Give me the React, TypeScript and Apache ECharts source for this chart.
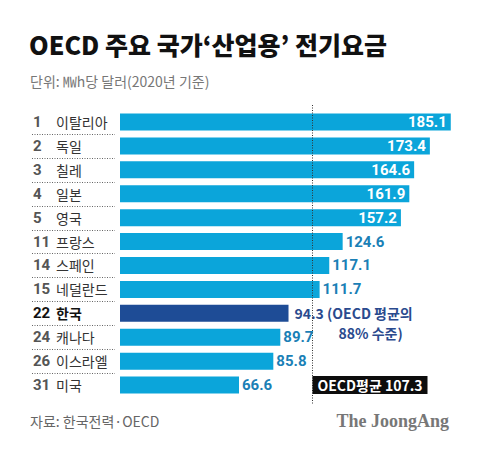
import React, { useEffect, useRef } from "react";
import * as echarts from "echarts";

const ranks = [1, 2, 3, 4, 5, 11, 14, 15, 22, 24, 26, 31];
const countries = ["이탈리아", "독일", "칠레", "일본", "영국", "프랑스", "스페인", "네덜란드", "한국", "캐나다", "이스라엘", "미국"];
const values = [185.1, 173.4, 164.6, 161.9, 157.2, 124.6, 117.1, 111.7, 94.3, 89.7, 85.8, 66.6];
const oecdAverage = 107.3;
const highlight = "한국";
const insideCount = 5;

const titleText = "OECD 주요 국가‘산업용’ 전기요금";
const subtitleText = "단위: ㎿h당 달러(2020년 기준)";
const sourceText = "자료: 한국전력·OECD";
const brandText = "The JoongAng";

const KR = '"Noto Sans CJK KR", "Noto Sans", sans-serif';
const NUM = 'Roboto, "Noto Sans", sans-serif';

export default function App() {
  const ref = useRef<HTMLDivElement>(null);
  useEffect(() => {
    if (!ref.current) return;
    const chart = echarts.init(ref.current, undefined, { renderer: "svg" });
    const hIdx = countries.indexOf(highlight);
    const barData = values.map((v, i) => {
      if (i === hIdx) {
        const pct = Math.round((v / oecdAverage) * 100);
        return {
          value: v,
          itemStyle: { color: "#1e4c96" },
          label: {
            show: true,
            position: "right",
            distance: 6,
            offset: [0, 10],
            formatter: `{a|${v} (OECD 평균의}\n{b|${pct}% 수준)}`,
            rich: {
              a: { fontSize: 14, fontWeight: "bold", color: "#2a4a8e", fontFamily: KR, lineHeight: 20 },
              b: { fontSize: 14, fontWeight: "bold", color: "#2a4a8e", fontFamily: KR, lineHeight: 20, padding: [0, 0, 0, 44] },
            },
          },
        };
      }
      const inside = i < insideCount;
      return {
        value: v,
        label: {
          show: true,
          position: inside ? "insideRight" : "right",
          distance: inside ? 4 : 3,
          color: inside ? "#ffffff" : "#1a80b6",
          fontSize: 15,
          fontWeight: "bold",
          fontFamily: NUM,
          formatter: String(v),
        },
      };
    });

    const sepData = countries.slice(1).map((_, i) => [0, i + 1]);

    chart.setOption({
      animation: false,
      backgroundColor: "#ffffff",
      grid: { left: 120, top: 110, width: 357.4, height: 287 },
      xAxis: { type: "value", min: 0, max: 200, show: false },
      yAxis: {
        type: "category",
        inverse: true,
        data: countries,
        axisLine: { show: false },
        axisTick: { show: false },
        axisLabel: {
          align: "left",
          margin: 87,
          formatter: (name: string, i: number) =>
            i === hIdx ? `{rk|${ranks[i]}}{nk|${name}}` : `{r|${ranks[i]}}{n|${name}}`,
          rich: {
            r: { width: 23, fontSize: 15, fontWeight: "bold", color: "#555", fontFamily: NUM },
            n: { fontSize: 14, color: "#333", fontFamily: KR },
            rk: { width: 23, fontSize: 15, fontWeight: "bold", color: "#111", fontFamily: NUM },
            nk: { fontSize: 14, fontWeight: "bold", color: "#111", fontFamily: KR },
          },
        },
      },
      series: [
        {
          type: "bar",
          data: barData,
          barWidth: 17,
          itemStyle: { color: "#0ba5da" },
          z: 2,
        },
        {
          type: "custom",
          data: sepData,
          z: 1,
          renderItem: (params: any, api: any) => {
            const c = api.coord([0, api.value(1)]);
            const bw = api.size([0, 1])[1];
            const y = Math.round(c[1] - bw / 2) + 0.5;
            return {
              type: "line",
              shape: { x1: 32, y1: y, x2: 115, y2: y },
              style: { stroke: "#666", lineWidth: 1, lineDash: [1, 1.5] },
            };
          },
        },
        {
          type: "custom",
          data: [[oecdAverage, countries.length - 1]],
          z: 5,
          renderItem: (params: any, api: any) => {
            const v = api.value(0);
            const p = api.coord([v, api.value(1)]);
            const pTop = api.coord([v, 0]);
            const bw = api.size([0, 1])[1];
            const x = Math.round(p[0]) + 0.5;
            return {
              type: "group",
              children: [
                {
                  type: "line",
                  shape: { x1: x, y1: pTop[1] - bw / 2 - 5, x2: x, y2: p[1] + bw / 2 + 7 },
                  style: { stroke: "#333", lineWidth: 1, lineDash: [1, 1.5] },
                },
                {
                  type: "rect",
                  shape: { x: x, y: p[1] - 9, width: 115, height: 18 },
                  style: { fill: "#0d0d0d" },
                },
                {
                  type: "text",
                  style: {
                    text: `OECD평균 ${v}`,
                    x: x + 57.5,
                    y: p[1],
                    align: "center",
                    verticalAlign: "middle",
                    fill: "#ffffff",
                    font: `bold 14px ${KR}`,
                  },
                },
              ],
            };
          },
        },
      ],
      graphic: [
        {
          type: "text",
          style: { text: titleText, x: 29, y: 44, verticalAlign: "middle", fill: "#111", font: `900 25px ${KR}` },
        },
        {
          type: "text",
          style: { text: subtitleText, x: 30, y: 81, verticalAlign: "middle", fill: "#777", font: `14px ${KR}` },
        },
        {
          type: "text",
          style: { text: sourceText, x: 30, y: 421, verticalAlign: "middle", fill: "#666", font: `14px ${KR}` },
        },
        {
          type: "text",
          style: {
            text: brandText,
            x: 449,
            y: 421,
            align: "right",
            verticalAlign: "middle",
            fill: "#777",
            font: `bold 18px "Liberation Serif", "DejaVu Serif", serif`,
          },
        },
      ],
    });
    return () => chart.dispose();
  }, []);
  return <div ref={ref} style={{ position: "fixed", left: 0, top: 0, width: 480, height: 450 }} />;
}
